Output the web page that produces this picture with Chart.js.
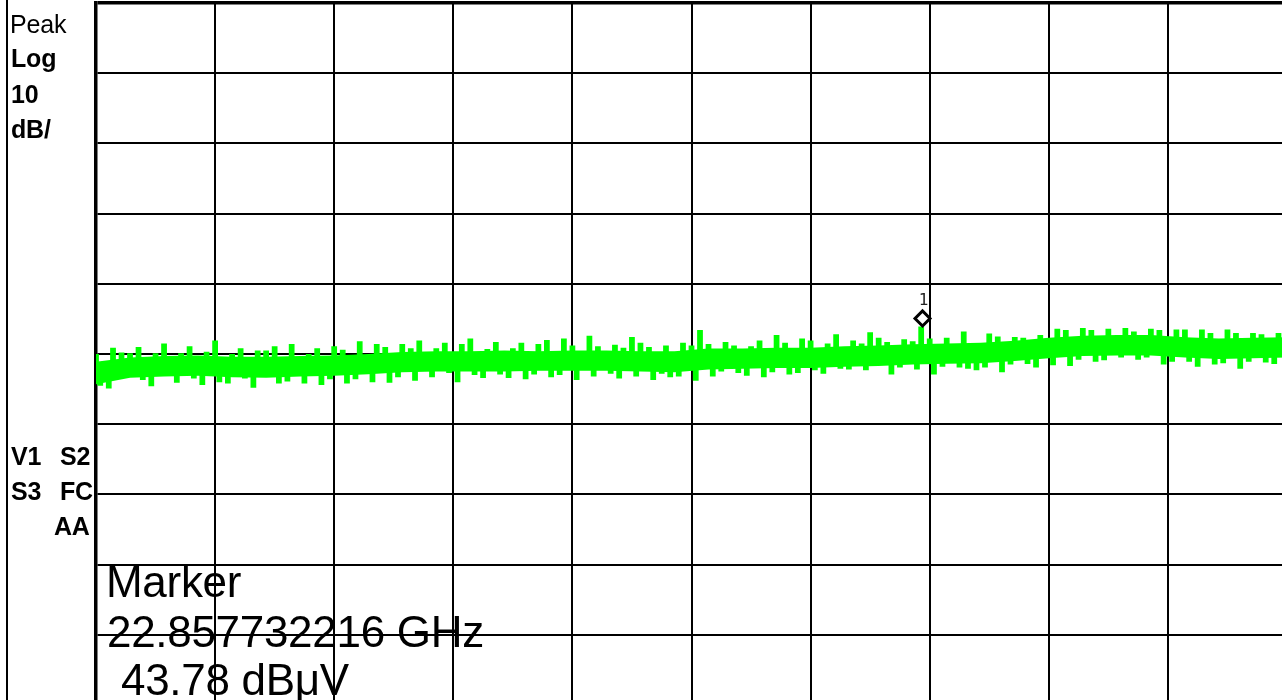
<!DOCTYPE html>
<html><head><meta charset="utf-8">
<script src="https://cdn.jsdelivr.net/npm/chart.js@4/dist/chart.umd.min.js"></script>
<style>
html,body{margin:0;padding:0;background:#fff;overflow:hidden;width:1282px;height:700px;}
#wrap{position:absolute;left:0;top:0;width:1300px;height:720px;}
.t{position:absolute;font-family:"Liberation Sans",Arial,sans-serif;line-height:1;white-space:pre;color:#000;}
.s{font-size:25px;letter-spacing:-0.2px;}
.b{font-weight:bold;letter-spacing:-0.2px;}
.m{font-size:44px;letter-spacing:-0.3px;}
</style></head><body>
<div id="wrap"><canvas id="c" width="1300" height="720"></canvas></div>
<div style="position:absolute;left:6px;top:0;width:2px;height:700px;background:#000"></div>
<div class="t s" style="left:10px;top:12px;">Peak</div>
<div class="t s b" style="left:11px;top:46px;">Log</div>
<div class="t s b" style="left:11px;top:82px;">10</div>
<div class="t s b" style="left:11px;top:117px;">dB/</div>
<div class="t s b" style="left:11px;top:444px;">V1</div>
<div class="t s b" style="left:60px;top:444px;">S2</div>
<div class="t s b" style="left:11px;top:479px;">S3</div>
<div class="t s b" style="left:60px;top:479px;">FC</div>
<div class="t s b" style="left:54px;top:514px;">AA</div>
<div class="t m" style="left:106px;top:560px;">Marker</div>
<div class="t m" style="left:107px;top:610px;">22.857732216 GHz</div>
<div class="t m" style="left:121px;top:658px;">43.78 dBμV</div>
<script>
// ---- axis definition ----
const START_GHZ = 18;
const STOP_GHZ = 25;
const REF_LEVEL_DBUV = 90;
const BOTTOM_DBUV = -10;
const X_GRID_GHZ = [18, 18.7, 19.4, 20.1, 20.8, 21.5, 22.2, 22.9, 23.6, 24.3, 25];
const Y_GRID_DBUV = [-10, 0, 10, 20, 30, 40, 50, 60, 70, 80, 90];

// ---- marker ----
const MARKER_FREQ_GHZ = [22.857732216];
const MARKER_LEVEL_DBUV = [43.78];
const MARKER_LABEL = "1";

// ---- noise-floor body (centre, upper and lower edge), every 0.2 GHz ----
const BODY_FREQ_GHZ = [18.0,18.2,18.4,18.6,18.8,19.0,19.2,19.4,19.6,19.8,20.0,20.2,20.4,20.6,20.8,21.0,21.2,21.4,21.6,21.8,22.0,22.2,22.4,22.6,22.8,23.0,23.2,23.4,23.6,23.8,24.0,24.2,24.4,24.6,24.8,25.0];
const BODY_CENTER_DBUV = [37.45,38.1,38.3,38.4,38.25,38.15,38.3,38.4,38.6,38.85,39.0,39.0,39.05,39.05,39.1,39.1,39.05,38.95,39.35,39.4,39.45,39.55,39.7,39.8,40.0,40.15,40.2,40.5,40.9,41.25,41.35,41.3,41.0,40.85,40.9,41.0];
const BODY_UPPER_DBUV = [38.9,39.5,39.7,39.8,39.6,39.6,39.7,39.8,40.0,40.3,40.4,40.4,40.5,40.4,40.5,40.5,40.4,40.4,40.8,40.8,40.9,40.9,41.1,41.2,41.4,41.5,41.6,41.9,42.3,42.6,42.7,42.7,42.4,42.2,42.3,42.4];
const BODY_LOWER_DBUV = [35.7,36.6,36.8,36.9,36.7,36.6,36.8,36.9,37.1,37.4,37.5,37.5,37.5,37.6,37.6,37.6,37.5,37.4,37.8,37.9,38.0,38.0,38.2,38.3,38.5,38.6,38.7,39.0,39.4,39.7,39.8,39.8,39.5,39.3,39.4,39.5];

// ---- peak trace, 281 points from 18 to 25 GHz ----
const TRACE_DBUV = [
39.9,35.6,38.2,35.2,40.8,37.0,40.1,37.4,
40.0,37.7,40.9,36.4,38.6,35.5,40.0,38.0,
41.4,37.9,38.9,36.0,40.0,37.8,41.0,36.6,
38.8,35.7,40.2,37.9,41.8,36.1,38.0,35.9,
39.9,37.6,40.7,36.6,38.7,35.3,40.4,37.9,
40.4,38.6,41.0,35.9,38.0,36.2,41.3,37.8,
38.9,35.9,39.9,37.8,40.7,35.7,38.6,36.5,
41.0,38.1,40.5,35.9,38.9,36.5,41.7,38.2,
39.2,36.1,41.3,38.3,40.9,36.0,39.1,36.8,
41.3,38.5,40.7,36.3,41.8,38.4,39.4,36.8,
40.7,38.6,41.5,37.4,39.5,36.1,41.3,38.7,
42.1,37.1,39.3,36.7,40.6,38.5,41.6,37.2,
39.6,36.7,40.7,38.6,41.5,36.5,39.4,37.2,
41.3,38.7,41.9,36.8,39.6,37.1,42.1,38.5,
41.1,36.4,39.5,38.6,42.5,36.9,41.0,38.8,
39.7,37.3,41.2,36.6,40.8,38.7,42.3,36.9,
41.5,38.5,40.9,36.4,39.4,37.3,41.1,36.8,
39.5,36.9,41.5,38.7,41.1,36.3,43.3,38.8,
41.3,36.9,39.9,37.6,41.6,38.9,41.1,37.4,
39.8,37.0,41.0,38.9,41.8,36.8,39.9,37.5,
42.6,39.1,41.5,37.2,39.9,37.4,42.1,39.0,
41.8,37.8,40.1,37.3,41.4,39.2,42.7,38.0,
40.2,37.9,41.8,39.3,41.4,37.8,43.0,39.4,
42.2,39.5,41.6,37.2,40.3,38.2,42.0,39.6,
41.7,37.9,43.8,39.6,42.1,37.2,40.5,38.3,
42.2,39.8,40.6,38.2,43.1,38.0,40.5,37.8,
40.8,38.2,42.8,39.9,42.4,37.5,40.9,38.6,
42.3,40.2,42.2,38.7,41.2,38.2,42.6,40.3,
41.5,38.5,43.5,40.6,43.3,38.4,41.6,39.3,
43.6,40.8,43.3,39.0,41.8,39.2,43.5,40.9,
41.9,39.6,43.6,40.8,43.1,39.3,41.7,39.6,
43.5,40.6,43.3,38.6,41.5,39.0,43.4,40.7,
43.4,39.0,41.4,38.3,43.4,40.5,42.9,38.6,
41.3,38.8,43.4,40.4,42.9,38.0,41.2,39.0,
42.9,40.5,42.7,38.9,41.4,38.7,42.9,40.6,
41.6
];

const GREEN = '#00ff00';
const traceStep = (STOP_GHZ - START_GHZ) / (TRACE_DBUV.length - 1);
const tracePts = TRACE_DBUV.map((v, i) => ({ x: START_GHZ + i * traceStep, y: v }));
const centerPts = BODY_FREQ_GHZ.map((f, i) => ({ x: f, y: BODY_CENTER_DBUV[i] }));
const upperPts = BODY_FREQ_GHZ.map((f, i) => ({ x: f, y: BODY_UPPER_DBUV[i] }));
const lowerPts = BODY_FREQ_GHZ.map((f, i) => ({ x: f, y: BODY_LOWER_DBUV[i] }));

const markerPlugin = {
  id: 'markerPlugin',
  afterDatasetsDraw(chart) {
    const { ctx, scales } = chart;
    const px = scales.x.getPixelForValue(MARKER_FREQ_GHZ[0]);
    const py = scales.y.getPixelForValue(MARKER_LEVEL_DBUV[0]);
    ctx.save();
    ctx.strokeStyle = '#000';
    ctx.lineWidth = 3;
    ctx.lineJoin = 'miter';
    ctx.beginPath();
    ctx.moveTo(px, py - 1.5);
    ctx.lineTo(px + 7.5, py - 9);
    ctx.lineTo(px, py - 16.5);
    ctx.lineTo(px - 7.5, py - 9);
    ctx.closePath();
    ctx.stroke();
    ctx.fillStyle = '#222';
    ctx.font = '16px "DejaVu Sans Mono", monospace';
    ctx.textAlign = 'center';
    ctx.textBaseline = 'alphabetic';
    ctx.fillText(MARKER_LABEL, px + 1, py - 22);
    ctx.restore();
  }
};

new Chart(document.getElementById('c'), {
  type: 'line',
  data: {
    datasets: [
      { data: centerPts, borderWidth: 0, pointRadius: 0, fill: false, tension: 0 },
      { data: upperPts, borderWidth: 0, pointRadius: 0, backgroundColor: GREEN, fill: 2, tension: 0 },
      { data: lowerPts, borderWidth: 0, pointRadius: 0, backgroundColor: GREEN, fill: false, tension: 0 },
      { data: tracePts, borderColor: GREEN, backgroundColor: GREEN, borderWidth: 1.5, pointRadius: 0, fill: 0, tension: 0, stepped: 'middle' }
    ]
  },
  options: {
    responsive: false,
    animation: false,
    devicePixelRatio: 1,
    layout: { padding: { left: 96, top: 3, right: 13, bottom: 15 } },
    plugins: { legend: { display: false }, tooltip: { enabled: false } },
    scales: {
      x: {
        type: 'linear', min: START_GHZ, max: STOP_GHZ,
        afterBuildTicks: s => { s.ticks = X_GRID_GHZ.map(v => ({ value: v })); },
        ticks: { display: false },
        grid: { color: '#000', lineWidth: c => (c.tick && c.tick.value === START_GHZ ? 0 : 2), drawTicks: false },
        border: { display: false }
      },
      y: {
        type: 'linear', min: BOTTOM_DBUV, max: REF_LEVEL_DBUV,
        afterBuildTicks: s => { s.ticks = Y_GRID_DBUV.map(v => ({ value: v })); },
        ticks: { display: false },
        grid: { color: '#000', lineWidth: c => (c.tick && c.tick.value === REF_LEVEL_DBUV ? 3.5 : 2), drawTicks: false },
        border: { display: true, color: '#000', width: 3.5 }
      }
    }
  },
  plugins: [markerPlugin]
});
</script>
</body></html>
